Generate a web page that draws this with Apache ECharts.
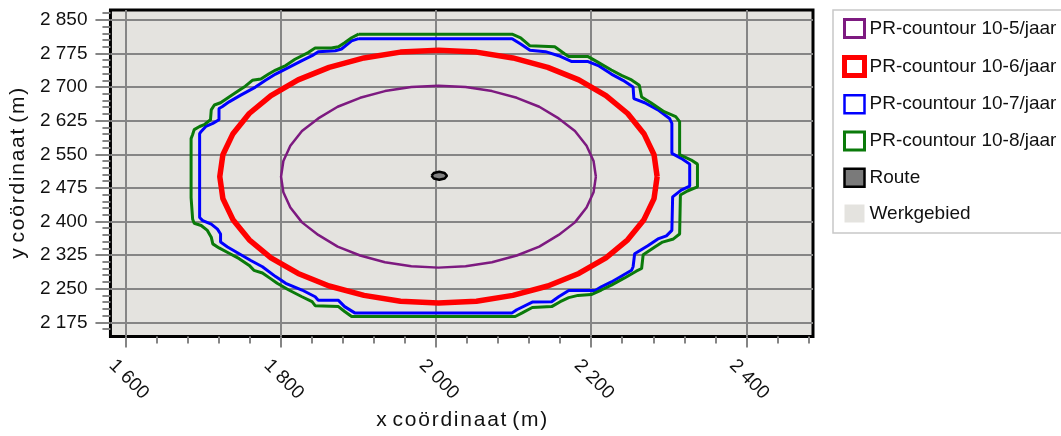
<!DOCTYPE html>
<html>
<head>
<meta charset="utf-8">
<script src="https://cdn.jsdelivr.net/npm/echarts@6/dist/echarts.min.js"></script>
<style>html,body{margin:0;padding:0;background:#fff}#c{width:1061px;height:436px}</style>
</head>
<body>
<div id="c"></div>
<script>
// ---- axis extents and ticks ----
const xRange = [1580, 2486];
const yRange = [2143, 2872];
const xMajorTicks = [1600, 1800, 2000, 2200, 2400];
const yMajorTicks = [2175, 2250, 2325, 2400, 2475, 2550, 2625, 2700, 2775, 2850];
const xMinorTicks = [1600,1640,1680,1720,1760,1800,1840,1880,1920,1960,2000,2040,2080,2120,2160,2200,2240,2280,2320,2360,2400,2440,2480];
const yMinorTicks = [2160,2175,2190,2205,2220,2235,2250,2265,2280,2295,2310,2325,2340,2355,2370,2385,2400,2415,2430,2445,2460,2475,2490,2505,2520,2535,2550,2565,2580,2595,2610,2625,2640,2655,2670,2685,2700,2715,2730,2745,2760,2775,2790,2805,2820,2835,2850,2865];

const xAxisTitle = 'x coördinaat (m)';
const yAxisTitle = 'y coördinaat (m)';
const seriesNames = ['PR-countour 10-5/jaar','PR-countour 10-6/jaar','PR-countour 10-7/jaar','PR-countour 10-8/jaar','Route','Werkgebied'];

// ---- contour data [x, y] in metres ----
const contour5 = [[2206,2500],[2203,2535],[2194,2569],[2179,2602],[2158,2630],[2133,2656],[2104,2676],[2072,2691],[2038,2700],[2003,2703],[1968,2700],[1934,2691],[1902,2676],[1873,2656],[1848,2630],[1827,2602],[1812,2569],[1803,2535],[1800,2500],[1803,2465],[1812,2431],[1827,2398],[1848,2370],[1873,2344],[1902,2324],[1934,2309],[1968,2300],[2003,2297],[2038,2300],[2072,2309],[2104,2324],[2133,2344],[2158,2370],[2179,2398],[2194,2431],[2203,2465],[2206,2500]];

const contour6 = [[2285,2500],[2281,2549],[2268,2596],[2247,2641],[2219,2681],[2184,2716],[2144,2744],[2099,2765],[2052,2778],[2003,2782],[1954,2778],[1907,2765],[1862,2744],[1822,2716],[1787,2681],[1759,2641],[1738,2596],[1725,2549],[1721,2500],[1725,2451],[1738,2404],[1759,2359],[1787,2319],[1822,2284],[1862,2256],[1907,2235],[1954,2222],[2003,2218],[2052,2222],[2099,2235],[2144,2256],[2184,2284],[2219,2319],[2247,2359],[2268,2404],[2281,2451],[2285,2500]];

const contour7 = [[1900,2808],[2098,2808],[2109,2796],[2121,2782],[2141,2779],[2158,2770],[2175,2757],[2196,2757],[2209,2748],[2226,2729],[2241,2715],[2254,2700],[2255,2674],[2269,2665],[2286,2649],[2301,2630],[2304,2619],[2304,2552],[2316,2541],[2327,2528],[2327,2479],[2316,2470],[2305,2455],[2304,2380],[2297,2368],[2286,2361],[2273,2346],[2256,2328],[2254,2299],[2252,2291],[2241,2280],[2226,2265],[2213,2254],[2205,2246],[2171,2246],[2158,2232],[2149,2221],[2124,2220],[2104,2203],[2098,2196],[1895,2196],[1882,2210],[1874,2224],[1848,2224],[1844,2232],[1827,2247],[1806,2262],[1793,2277],[1776,2299],[1761,2313],[1746,2328],[1731,2343],[1722,2354],[1722,2372],[1718,2383],[1710,2394],[1699,2402],[1695,2409],[1695,2596],[1697,2601],[1703,2612],[1712,2619],[1720,2627],[1720,2652],[1724,2656],[1733,2667],[1748,2682],[1767,2700],[1780,2715],[1793,2729],[1810,2744],[1827,2759],[1840,2770],[1848,2779],[1870,2781],[1878,2785],[1891,2803],[1900,2808]];

const contour8 = [[1900,2818],[2098,2818],[2109,2810],[2121,2792],[2153,2790],[2166,2774],[2171,2768],[2196,2768],[2209,2755],[2226,2738],[2239,2726],[2252,2716],[2262,2704],[2265,2678],[2277,2665],[2294,2645],[2309,2634],[2314,2623],[2314,2549],[2329,2537],[2337,2528],[2337,2477],[2324,2468],[2315,2459],[2314,2372],[2306,2361],[2292,2354],[2282,2343],[2267,2326],[2265,2295],[2258,2289],[2243,2274],[2226,2258],[2213,2247],[2200,2237],[2183,2235],[2171,2230],[2160,2221],[2149,2210],[2124,2208],[2111,2196],[2102,2188],[1891,2188],[1882,2199],[1874,2210],[1844,2212],[1840,2221],[1827,2232],[1810,2247],[1795,2262],[1786,2273],[1776,2285],[1765,2291],[1759,2302],[1746,2317],[1733,2329],[1720,2341],[1712,2350],[1710,2365],[1705,2380],[1697,2391],[1688,2396],[1686,2405],[1684,2453],[1684,2585],[1686,2594],[1688,2605],[1695,2612],[1701,2616],[1709,2627],[1710,2649],[1714,2660],[1722,2665],[1733,2678],[1746,2693],[1754,2702],[1763,2715],[1774,2718],[1784,2729],[1793,2738],[1806,2748],[1818,2762],[1835,2777],[1844,2787],[1865,2787],[1874,2790],[1882,2799],[1891,2810],[1900,2818]];

const route = [[1994,2502],[1997,2508],[2004,2511],[2011,2508],[2014,2502],[2011,2496],[2004,2493],[1997,2496],[1994,2502]];

// ---- styling ----
const colors = ['#7d1a80', '#ff0000', '#0000ff', '#0a7a0a'];
const widths = [2.5, 5.5, 3, 3];
const plotBg = '#e4e3df';
const gridColor = '#858585';
const FONT = 'Liberation Sans, Arial, sans-serif';
const fmt = v => String(v).replace(/\B(?=(\d{3})+(?!\d))/g, ' ');
// loosen the tracking of the axis titles (hair spaces between letters of a word)
const track = s => s.split(' ').map(w => w.split('').join('\u200A')).join(' ');

const chart = echarts.init(document.getElementById('c'), null, {renderer: 'canvas'});
const contours = [contour5, contour6, contour7, contour8];

const series = contours.map((d, i) => ({
  name: seriesNames[i], type: 'line', data: d, showSymbol: false, symbol: 'none',
  lineStyle: {color: colors[i], width: widths[i]}, itemStyle: {color: colors[i]},
  z: [3, 4, 2, 2][i], animation: false
}));
series.push({
  name: seriesNames[4], type: 'line', data: route, showSymbol: false, symbol: 'none',
  lineStyle: {color: '#000', width: 2.5}, areaStyle: {color: '#808080', opacity: 1, origin: 'auto'},
  itemStyle: {color: '#808080'}, z: 6, animation: false
});
series.push({name: seriesNames[5], type: 'line', data: [], itemStyle: {color: plotBg}});

const legendIcons = [
  {fill: '#ffffff', border: colors[0], bw: 3},
  {fill: '#ffffff', border: colors[1], bw: 5},
  {fill: '#ffffff', border: colors[2], bw: 2.5},
  {fill: '#ffffff', border: colors[3], bw: 3},
  {fill: '#7a7a7a', border: '#000000', bw: 2.5},
  {fill: plotBg, border: plotBg, bw: 0}
];

chart.setOption({
  animation: false,
  backgroundColor: '#ffffff',
  grid: {left: 105, right: 248, top: 10, bottom: 95, show: true, backgroundColor: plotBg, borderColor: '#000', borderWidth: 3, z: 0},
  legend: {
    orient: 'vertical', left: 833, top: 10, padding: [8, 60, 10, 9],
    itemWidth: 20, itemHeight: 18, itemGap: 16, selectedMode: false,
    backgroundColor: '#ffffff', borderColor: '#c8c8c8', borderWidth: 1.5, borderRadius: 0,
    textStyle: {fontFamily: FONT, fontSize: 19, color: '#111'},
    data: seriesNames.map((n, i) => ({
      name: n, icon: 'rect',
      itemStyle: {color: legendIcons[i].fill, borderColor: legendIcons[i].border, borderWidth: legendIcons[i].bw}
    }))
  },
  xAxis: [{
    type: 'value', min: xRange[0], max: xRange[1], position: 'bottom',
    name: track(xAxisTitle), nameLocation: 'middle', nameGap: 67,
    nameTextStyle: {fontFamily: FONT, fontSize: 21, color: '#111'},
    axisLine: {show: false},
    axisTick: {show: true, customValues: xMajorTicks, length: 11, lineStyle: {color: gridColor, width: 2}},
    axisLabel: {customValues: xMajorTicks, formatter: fmt, rotate: -45, align: 'center', verticalAlign: 'middle', margin: 40,
      padding: [0, 0, 0, 8], fontFamily: FONT, fontSize: 19, color: '#111'},
    splitLine: {show: true, lineStyle: {color: gridColor, width: 2}}
  }, {
    type: 'value', min: xRange[0], max: xRange[1], position: 'bottom',
    axisLine: {show: false}, axisLabel: {show: false}, splitLine: {show: false},
    axisTick: {show: true, customValues: xMinorTicks, length: 7, lineStyle: {color: gridColor, width: 2}}
  }],
  yAxis: [{
    type: 'value', min: yRange[0], max: yRange[1], position: 'left',
    name: track(yAxisTitle), nameLocation: 'middle', nameGap: 75,
    nameTextStyle: {fontFamily: FONT, fontSize: 21, color: '#111'},
    axisLine: {show: false},
    axisTick: {show: true, customValues: yMajorTicks, length: 15, lineStyle: {color: gridColor, width: 2}},
    axisLabel: {customValues: yMajorTicks, formatter: fmt, margin: 23, fontFamily: FONT, fontSize: 19, color: '#111'},
    splitLine: {show: true, lineStyle: {color: gridColor, width: 2}}
  }, {
    type: 'value', min: yRange[0], max: yRange[1], position: 'left',
    axisLine: {show: false}, axisLabel: {show: false}, splitLine: {show: false},
    axisTick: {show: true, customValues: yMinorTicks, length: 8, lineStyle: {color: gridColor, width: 2}}
  }],
  series: series
});
</script>
</body>
</html>
